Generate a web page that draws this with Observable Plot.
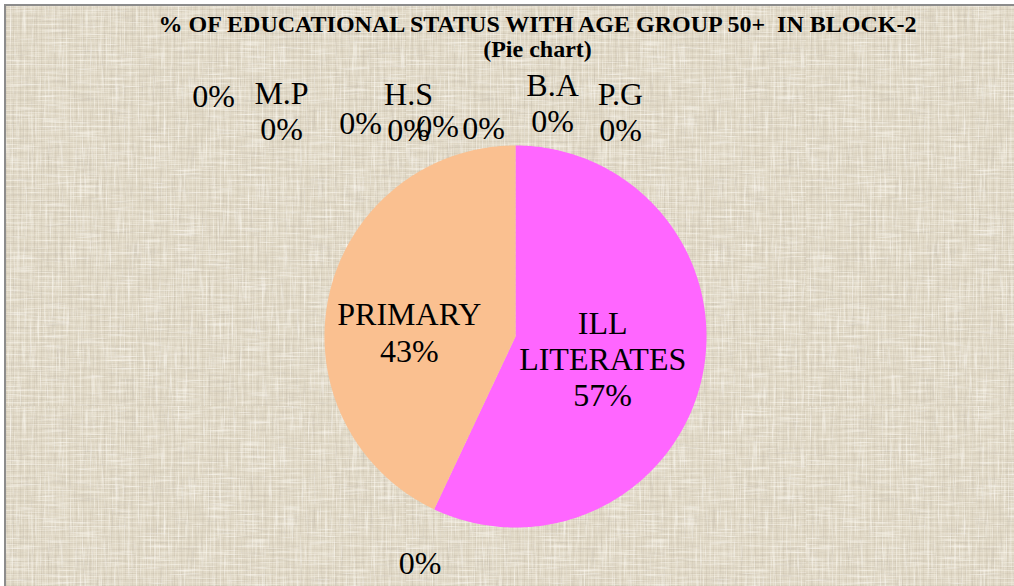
<!DOCTYPE html>
<html>
<head>
<meta charset="utf-8">
<script src="https://cdn.jsdelivr.net/npm/d3@7"></script>
<script src="https://cdn.jsdelivr.net/npm/@observablehq/plot@0.6"></script>
<style>
  html, body { margin: 0; padding: 0; background: #ffffff; }
  #wrap { position: relative; width: 1014px; height: 586px; overflow: hidden; }
  #canvas {
    position: absolute; left: 4px; top: 4px; width: 1010px; height: 582px;
    border-left: 2px solid #8c8c8c; border-top: 2px solid #8c8c8c;
    box-sizing: border-box;
    background-color: #E0D8C6;
  }
  #plot { position: absolute; left: 0; top: 0; }
  #plot svg { background: transparent !important; }
  #plot svg, #plot svg text { font-family: "Liberation Serif", "Tinos", "Times New Roman", "DejaVu Serif", serif !important; }
</style>
</head>
<body>
<div id="wrap">
  <div id="canvas"></div>
  <div id="plot"></div>
</div>
<script>
// ---- data ----
const categories = ["ILL LITERATES", "", "PRIMARY", "", "M.P", "", "H.S", "", "", "B.A", "P.G"];
const values     = [57, 0, 43, 0, 0, 0, 0, 0, 0, 0, 0];
const colors     = ["#FF66FF", "#4F81BD", "#FAC090", "#C0504D", "#9BBB59", "#8064A2", "#4BACC6", "#F79646", "#2C4D75", "#772C2A", "#5F7530"];
const titleText    = "% OF EDUCATIONAL STATUS WITH AGE GROUP 50+  IN BLOCK-2";
const subtitleText = "(Pie chart)";

// ---- decorative canvas texture (woven paper look) ----
const texSvg = `<svg xmlns='http://www.w3.org/2000/svg' width='400' height='400'>
<filter id='v' x='0' y='0' width='100%' height='100%'><feTurbulence type='fractalNoise' baseFrequency='0.6 0.03' numOctaves='2' seed='4'/>
<feColorMatrix values='0 0 0 0 0.55  0 0 0 0 0.50  0 0 0 0 0.42  3.2 0 0 0 -1.85'/></filter>
<filter id='h' x='0' y='0' width='100%' height='100%'><feTurbulence type='fractalNoise' baseFrequency='0.03 0.6' numOctaves='2' seed='9'/>
<feColorMatrix values='0 0 0 0 0.57  0 0 0 0 0.52  0 0 0 0 0.44  3.2 0 0 0 -1.85'/></filter>
<filter id='l' x='0' y='0' width='100%' height='100%'><feTurbulence type='fractalNoise' baseFrequency='0.5 0.03' numOctaves='2' seed='17'/>
<feColorMatrix values='0 0 0 0 0.98  0 0 0 0 0.96  0 0 0 0 0.91  3.0 0 0 0 -1.6'/></filter>
<filter id='m' x='0' y='0' width='100%' height='100%'><feTurbulence type='fractalNoise' baseFrequency='0.03 0.5' numOctaves='2' seed='23'/>
<feColorMatrix values='0 0 0 0 0.98  0 0 0 0 0.96  0 0 0 0 0.91  3.0 0 0 0 -1.6'/></filter>
<rect width='400' height='400' filter='url(#v)' opacity='0.5'/>
<rect width='400' height='400' filter='url(#h)' opacity='0.5'/>
<rect width='400' height='400' filter='url(#l)' opacity='0.6'/>
<rect width='400' height='400' filter='url(#m)' opacity='0.6'/>
</svg>`;
const cnv = document.getElementById("canvas");
cnv.style.backgroundImage = [
  `url("data:image/svg+xml,${encodeURIComponent(texSvg)}")`,
  "repeating-linear-gradient(90deg, rgba(150,135,110,0.10) 0 1px, transparent 1px 4px, rgba(255,251,238,0.22) 4px 5px, transparent 5px 7px)",
  "repeating-linear-gradient(0deg, rgba(150,135,110,0.10) 0 1px, transparent 1px 3px, rgba(255,251,238,0.20) 3px 4px, transparent 4px 6px)"
].join(",");

// ---- layout (not data) ----
const W = 1014, H = 586;
const cx = 515, cy = 336, R = 191;
// label nudges relative to each slice's base label point
const labelNudge = [[-6, 1], [-14, 53], [-13, 16], [-302, -50], [-234, -35], [-155, -23], [-107, -34], [-78, -20], [-32, -18], [37, -43], [105, -34]];

const total = d3.sum(values);
const arcs = d3.pie().sort(null).startAngle(0).endAngle(2 * Math.PI)(values);
const pt = (a, r) => [cx + r * Math.sin(a), cy - r * Math.cos(a)];

// slice polygons
const slicePts = [];
arcs.forEach((a, i) => {
  if (a.value <= 0) return;
  const n = Math.max(4, Math.ceil((a.endAngle - a.startAngle) / 0.01));
  slicePts.push({k: i, color: colors[i], px: cx, py: cy});
  for (let j = 0; j <= n; j++) {
    const t = a.startAngle + (a.endAngle - a.startAngle) * j / n;
    const [x, y] = pt(t, R);
    slicePts.push({k: i, color: colors[i], px: x, py: y});
  }
  slicePts.push({k: i, color: colors[i], px: cx, py: cy});
});

// labels
const fmt = v => d3.format(".0f")(v / total * 100) + "%";
const labels = arcs.map((a, i) => {
  const mid = (a.startAngle + a.endAngle) / 2;
  const [bx, by] = a.value > 0 ? pt(mid, R * 0.5) : pt(mid, R);
  const name = categories[i];
  return {
    text: name ? name.replace(" ", "\n") + "\n" + fmt(a.value) : fmt(a.value),
    lx: bx + labelNudge[i][0],
    ly: by + labelNudge[i][1]
  };
});

const serif = "Liberation Serif, Tinos, Times New Roman, DejaVu Serif, serif";
const chart = Plot.plot({
  width: W, height: H,
  margin: 0,
  x: {domain: [0, W], range: [0, W], axis: null},
  y: {domain: [0, H], range: [0, H], axis: null},
  color: {type: "identity"},
  style: {background: "transparent", fontFamily: serif},
  marks: [
    Plot.line(slicePts, {x: "px", y: "py", z: "k", fill: "color", stroke: null, curve: "linear"}),
    Plot.text(labels, {x: "lx", y: "ly", text: "text", fontSize: 32, lineHeight: 1.14, fill: "#000", textAnchor: "middle", fontFamily: serif}),
    Plot.text([titleText], {frameAnchor: "top", dx: 30, dy: 14, fontSize: 24, fontWeight: "bold", fill: "#000", ariaLabel: "title-text", fontFamily: serif}),
    Plot.text([subtitleText], {frameAnchor: "top", dx: 30, dy: 39, fontSize: 24, fontWeight: "bold", fill: "#000", ariaLabel: "subtitle-text", fontFamily: serif})
  ]
});
document.getElementById("plot").appendChild(chart);

// fit title widths to the original
const tt = chart.querySelector('g[aria-label="title-text"] text');
if (tt) { tt.setAttribute("textLength", 765); tt.setAttribute("lengthAdjust", "spacingAndGlyphs"); }
const st = chart.querySelector('g[aria-label="subtitle-text"] text');
if (st) { st.setAttribute("textLength", 109); st.setAttribute("lengthAdjust", "spacingAndGlyphs"); }
</script>
</body>
</html>
